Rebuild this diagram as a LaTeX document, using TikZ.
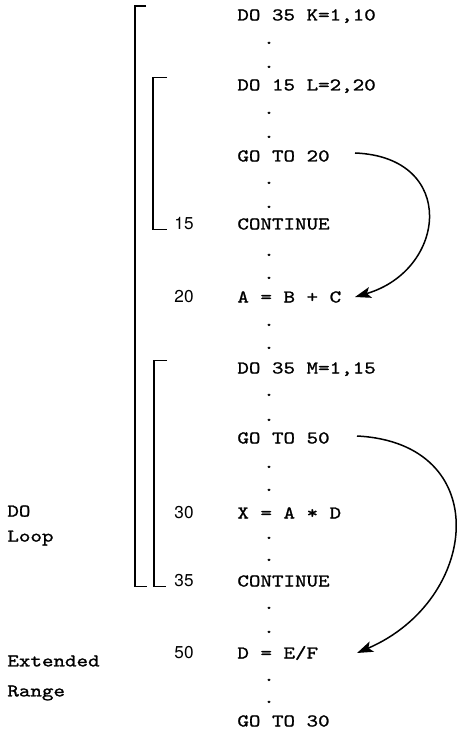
\documentclass[tikz,border=0pt]{standalone}
\usepackage{fontspec}
\newfontfamily\codefont{lmmono10-regular.otf}[FakeStretch=1.22,FakeBold=1.2]
\newfontfamily\labelfont{TeX Gyre Heros}
\usetikzlibrary{arrows.meta,calc}

\begin{document}
\begin{tikzpicture}[x=0.5pt, y=-0.5pt]
  % Define statement, label, bracket and jump styles
  \tikzstyle{stmt} = [font=\codefont\fontsize{9}{12.5}\selectfont,
  inner sep=0pt, anchor=base west, text height=5.5pt, text depth=0pt]
  \tikzstyle{stmtlabel} = [font=\labelfont\fontsize{8.6}{9}\selectfont,
  inner sep=0pt, anchor=base east]
  \tikzstyle{gap} = [font=\codefont\fontsize{9}{12.5}\selectfont,
  inner sep=0pt, anchor=base]
  \tikzstyle{note} = [font=\codefont\fontsize{9}{12.5}\selectfont,
  inner sep=0pt, anchor=north west, align=left]
  \tikzstyle{loopbracket} = [line width=0.75pt]
  \tikzstyle{jump} = [line width=0.75pt,
  -{Stealth[length=8pt,width=5.5pt,inset=1.8pt]}]

  \useasboundingbox (0,0) rectangle (460,732);

  % Program lines
  \node[stmt] (doK)    at (237,20.5)  {DO 35 K=1,10};
  \node[stmt] (doL)    at (237,90.5)  {DO 15 L=2,20};
  \node[stmt] (goto20) at (237,161.5) {GO TO 20};
  \node[stmt] (contL)  at (237,229.5) {CONTINUE};
  \node[stmt] (abc)    at (237,302.5) {A = B + C};
  \node[stmt] (doM)    at (237,373.5) {DO 35 M=1,15};
  \node[stmt] (goto50) at (237,443.5) {GO TO 50};
  \node[stmt] (xad)    at (237,518.5) {X = A * D};
  \node[stmt] (contM)  at (237,586.5) {CONTINUE};
  \node[stmt] (def)    at (237,658.5) {D = E/F};
  \node[stmt] (goto30) at (237,726.5) {GO TO 30};

  % Statement numbers
  \node[stmtlabel] (lab15) at (194,229.5) {15};
  \node[stmtlabel] (lab20) at (194,302.5) {20};
  \node[stmtlabel] (lab30) at (194,518.5) {30};
  \node[stmtlabel] (lab35) at (194,586.5) {35};
  \node[stmtlabel] (lab50) at (194,658.5) {50};

  % Skipped lines
  \foreach \y [count=\i] in {43,67,113,137,183,207,255,278,325,348,
    395,420,467,490,538,560,608,632,680,702}
    \node[gap] (dot\i) at (269,\y+1) {.};

  % Side notes
  \node[note] (doloop) at (7,505) {DO\\Loop};
  \node[note] (extrange) at (7,655) {Extended\\[2.5pt]Range};

  % Loop brackets
  \coordinate (outer) at (135,0);
  \coordinate (innerL) at (153,0);
  \coordinate (innerM) at (154,0);
  \draw[loopbracket] ($(outer |- doK.north)+(11,-3)$) -- ($(outer |- doK.north)+(0,-3)$)
    -- (outer |- contM.base) -- ++(12,0);
  \draw[loopbracket] ($(innerL |- doL.north)+(14,-1.5)$) -- ($(innerL |- doL.north)+(0,-1.5)$)
    -- (innerL |- contL.base) -- ++(14,0);
  \draw[loopbracket] ($(innerM |- doM.north)+(13,-1.5)$) -- ($(innerM |- doM.north)+(0,-1.5)$)
    -- (innerM |- contM.base) -- ++(12,0);

  % Jumps
  \coordinate (arcx) at (355,0);
  \draw[jump] ($(goto20.east -| arcx)+(0,-3)$) .. controls +(103,4) and +(92,-27) .. (abc.east -| arcx);
  \draw[jump] ($(goto50.east -| arcx)+(2,-2)$) .. controls +(138,7) and +(123,-53) .. ($(def.east -| arcx)+(2,0)$);
\end{tikzpicture}
\end{document}
